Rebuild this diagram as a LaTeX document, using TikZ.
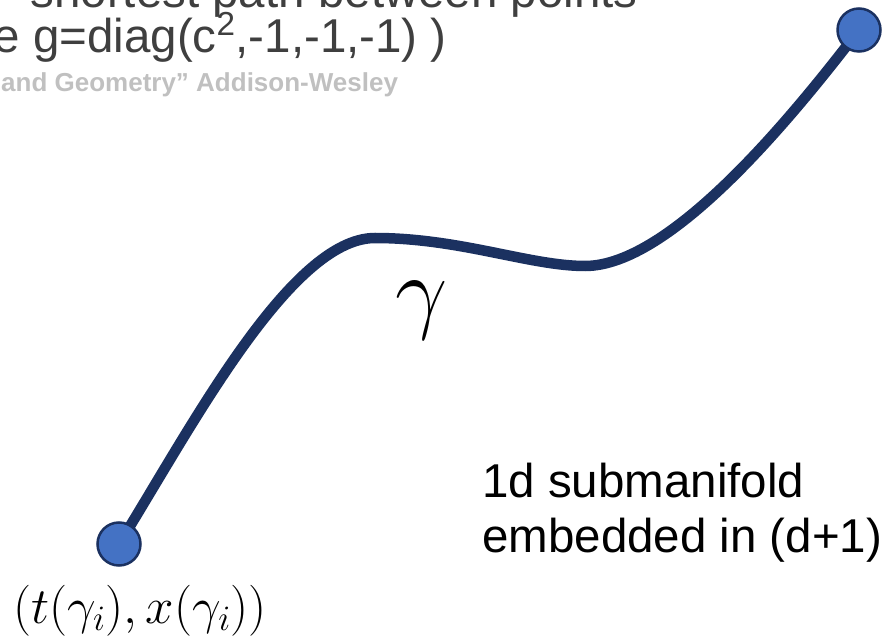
\RequirePackage{fix-cm}
\documentclass[tikz,border=0pt]{standalone}
\usepackage{fontspec}
\setmainfont{Liberation Sans}
\usetikzlibrary{backgrounds}
\definecolor{navy}{HTML}{1B3160}
\definecolor{ptblue}{HTML}{4472C4}
\definecolor{hdgray}{HTML}{3F3F3F}
\definecolor{refgray}{HTML}{C0C0C0}
\tikzset{
  endpt/.style={circle, fill=ptblue, draw=navy, line width=2.5pt, minimum size=43pt, inner sep=0pt},
  bigtxt/.style={inner sep=0pt, font=\fontsize{47.5}{55}\selectfont},
  reftxt/.style={inner sep=0pt, text=refgray, font=\fontsize{26}{30}\selectfont\bfseries},
  geod/.style={draw=navy, line width=10.5pt, line cap=round},
}
\begin{document}
\begin{tikzpicture}[x=1pt,y=-1pt]
\useasboundingbox (0,0) rectangle (889,636);
% header (cut off)
\node[bigtxt, text=hdgray, anchor=base east] (h1) at (638,8) {shortest path between points};
\node[bigtxt, text=hdgray, anchor=base east] (h2) at (447,53) {e g=diag(c\textsuperscript{2},-1,-1,-1) )};
\node[reftxt, anchor=base west] (h3) at (1,92) {and Geometry” Addison-Wesley};
% end points
\node[endpt] (p0) at (119,544) {};
\node[endpt] (p1) at (859,30) {};
\begin{scope}[on background layer]
\draw[geod] (p0.center) .. controls (190,430) and (290,238) .. (375,238)
  .. controls (460,238) and (530,266) .. (585,266)
  .. controls (670,266) and (790,120) .. (p1.center);
\end{scope}
% labels
\node[inner sep=0pt, font=\fontsize{93}{93}\selectfont] (g) at (422,311) {$\gamma$};
\node[inner sep=0pt, anchor=base, font=\fontsize{51}{54}\selectfont] (lab) at (140,623) {$(t(\gamma_i),x(\gamma_i))$};
\node[bigtxt, anchor=base west] (s1) at (482,497) {1d submanifold};
\node[bigtxt, anchor=base west] (s2) at (482,552) {embedded in (d+1)};
\end{tikzpicture}
\end{document}
